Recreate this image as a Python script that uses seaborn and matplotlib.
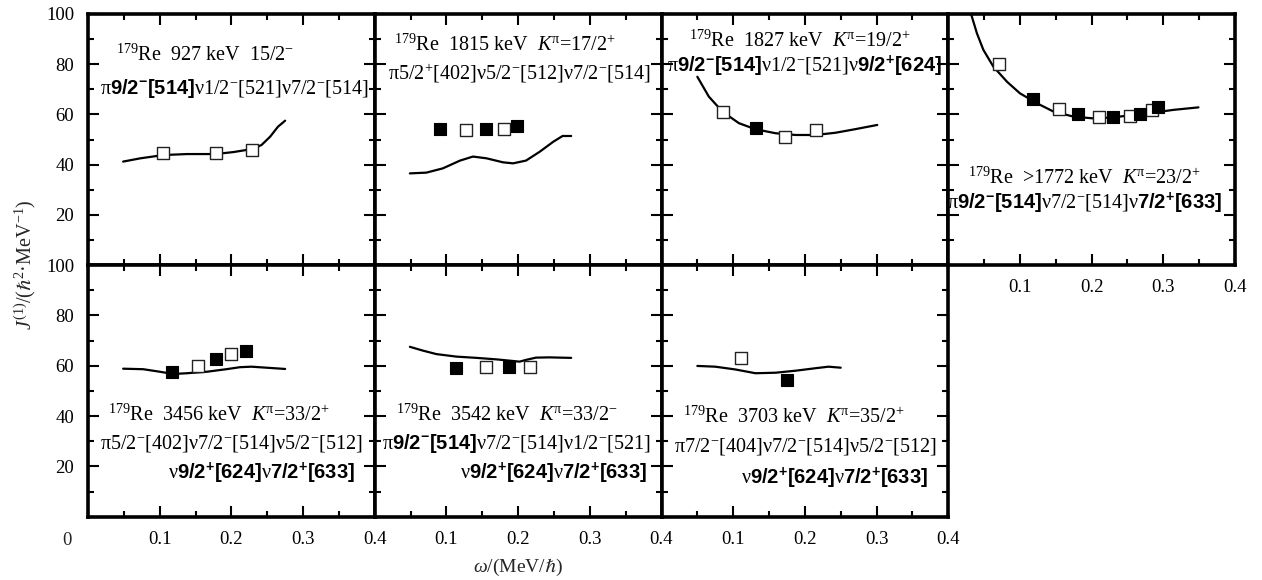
import matplotlib
matplotlib.use("Agg")
import matplotlib.pyplot as plt
from matplotlib.ticker import FixedLocator, MultipleLocator
import seaborn as sns

# ---- data: omega (MeV/hbar) and J(1) (hbar^2/MeV) ----
# 927 keV 15/2-
p1_curve_w = [0.049, 0.073, 0.105, 0.138, 0.178, 0.203, 0.229, 0.242, 0.254, 0.265, 0.275]
p1_curve_j = [41.2, 42.5, 43.8, 44.2, 44.2, 45.0, 46.2, 47.8, 51.1, 55.1, 57.5]
p1_open_w = [0.105, 0.178, 0.229]
p1_open_j = [44.5, 44.5, 45.8]
p1_fill_w = []
p1_fill_j = []

# 1815 keV 17/2+
p2_curve_w = [0.049, 0.072, 0.095, 0.119, 0.137, 0.156, 0.179, 0.193, 0.211, 0.230, 0.249, 0.262, 0.274]
p2_curve_j = [36.5, 36.8, 38.5, 41.6, 43.2, 42.5, 40.9, 40.5, 41.6, 45.1, 49.1, 51.4, 51.4]
p2_open_w = [0.127, 0.180]
p2_open_j = [53.8, 54.1]
p2_fill_w = [0.091, 0.155, 0.199]
p2_fill_j = [54.1, 54.1, 55.5]

# 1827 keV 19/2+
p3_curve_w = [0.050, 0.066, 0.085, 0.108, 0.131, 0.159, 0.187, 0.215, 0.243, 0.270, 0.301]
p3_curve_j = [75.0, 67.1, 61.1, 56.5, 54.1, 52.5, 51.8, 51.8, 52.7, 54.1, 55.8]
p3_open_w = [0.086, 0.172, 0.216]
p3_open_j = [61.1, 51.1, 53.8]
p3_fill_w = [0.132]
p3_fill_j = [54.7]

# >1772 keV 23/2+
p4_curve_w = [0.030, 0.033, 0.040, 0.049, 0.063, 0.082, 0.100, 0.124, 0.147, 0.175,
              0.203, 0.230, 0.258, 0.286, 0.314, 0.349]
p4_curve_j = [101.5, 98.9, 92.3, 85.7, 79.0, 73.0, 68.4, 64.4, 61.1, 59.1,
              58.4, 58.8, 59.8, 60.7, 61.8, 62.8]
p4_open_w = [0.071, 0.155, 0.210, 0.254, 0.284]
p4_open_j = [80.0, 62.0, 59.1, 59.4, 61.8]
p4_fill_w = [0.118, 0.181, 0.230, 0.268, 0.292]
p4_fill_j = [66.0, 60.0, 58.8, 60.2, 63.1]

# 3456 keV 33/2+
p5_curve_w = [0.049, 0.077, 0.100, 0.119, 0.138, 0.166, 0.193, 0.212, 0.228, 0.249, 0.275]
p5_curve_j = [58.8, 58.6, 57.6, 56.7, 57.0, 57.6, 58.6, 59.4, 59.6, 59.2, 58.7]
p5_open_w = [0.154, 0.200]
p5_open_j = [60.0, 64.5]
p5_fill_w = [0.117, 0.179, 0.220]
p5_fill_j = [57.6, 62.5, 65.8]

# 3542 keV 33/2-
p6_curve_w = [0.049, 0.067, 0.086, 0.114, 0.142, 0.170, 0.188, 0.202, 0.211, 0.225, 0.244, 0.258, 0.274]
p6_curve_j = [67.5, 66.0, 64.6, 63.6, 63.1, 62.5, 62.0, 61.6, 62.3, 63.2, 63.3, 63.2, 63.1]
p6_open_w = [0.155, 0.217]
p6_open_j = [59.6, 59.6]
p6_fill_w = [0.113, 0.187]
p6_fill_j = [59.0, 59.6]

# 3703 keV 35/2+
p7_curve_w = [0.050, 0.075, 0.103, 0.131, 0.159, 0.187, 0.215, 0.233, 0.250]
p7_curve_j = [59.9, 59.6, 58.5, 57.0, 57.2, 58.0, 59.0, 59.6, 59.2]
p7_open_w = [0.111]
p7_open_j = [62.9]
p7_fill_w = [0.175]
p7_fill_j = [54.3]

# ---- panel texts ----
p1_text = [r"$^{179}$Re  927 keV  15/2$^{-}$",
           r"π$\mathbf{9/2^{-}[514]}$ν1/2$^{-}$[521]ν7/2$^{-}$[514]"]
p2_text = [r"$^{179}$Re  1815 keV  $\mathit{K}^{\pi}$=17/2$^{+}$",
           r"π5/2$^{+}$[402]ν5/2$^{-}$[512]ν7/2$^{-}$[514]"]
p3_text = [r"$^{179}$Re  1827 keV  $\mathit{K}^{\pi}$=19/2$^{+}$",
           r"π$\mathbf{9/2^{-}[514]}$ν1/2$^{-}$[521]ν$\mathbf{9/2^{+}[624]}$"]
p4_text = [r"$^{179}$Re  >1772 keV  $\mathit{K}^{\pi}$=23/2$^{+}$",
           r"π$\mathbf{9/2^{-}[514]}$ν7/2$^{-}$[514]ν$\mathbf{7/2^{+}[633]}$"]
p5_text = [r"$^{179}$Re  3456 keV  $\mathit{K}^{\pi}$=33/2$^{+}$",
           r"π5/2$^{-}$[402]ν7/2$^{-}$[514]ν5/2$^{-}$[512]",
           r"ν$\mathbf{9/2^{+}[624]}$ν$\mathbf{7/2^{+}[633]}$"]
p6_text = [r"$^{179}$Re  3542 keV  $\mathit{K}^{\pi}$=33/2$^{-}$",
           r"π$\mathbf{9/2^{-}[514]}$ν7/2$^{-}$[514]ν1/2$^{-}$[521]",
           r"ν$\mathbf{9/2^{+}[624]}$ν$\mathbf{7/2^{+}[633]}$"]
p7_text = [r"$^{179}$Re  3703 keV  $\mathit{K}^{\pi}$=35/2$^{+}$",
           r"π7/2$^{-}$[404]ν7/2$^{-}$[514]ν5/2$^{-}$[512]",
           r"ν$\mathbf{9/2^{+}[624]}$ν$\mathbf{7/2^{+}[633]}$"]

x_ticks = [0.0, 0.1, 0.2, 0.3, 0.4]
x_tick_labels = ["", "0.1", "0.2", "0.3", "0.4"]
y_ticks = [0, 20, 40, 60, 80, 100]
y_tick_labels = ["", "20", "40", "60", "80", "100"]

# ---- style ----
sns.set_theme(style="ticks")
plt.rcParams.update({
    "font.family": ["Liberation Serif", "DejaVu Serif"],
    "mathtext.fontset": "custom",
    "mathtext.rm": "Liberation Serif",
    "mathtext.it": "Liberation Serif:italic",
    "mathtext.bf": "Liberation Sans:bold",
    "mathtext.default": "rm",
    "mathtext.fallback": "stix",
    "axes.linewidth": 2.6,
    "axes.edgecolor": "black",
    "xtick.color": "black",
    "ytick.color": "black",
})

W, H = 1262, 580
fig = plt.figure(figsize=(W / 100, H / 100), dpi=100)

col_px = [88, 374.75, 661.5, 948.25]
col_w = 286.75
row_px = [(14, 265), (265, 516.7)]


def make_axes(col, row):
    left = col_px[col] / W
    top_px, bot_px = row_px[row]
    return fig.add_axes([left, 1 - bot_px / H, col_w / W, (bot_px - top_px) / H])


panels = [
    (0, 0, p1_curve_w, p1_curve_j, p1_open_w, p1_open_j, p1_fill_w, p1_fill_j,
     p1_text, [(0.408, 0.837, "center"), (0.512, 0.705, "center")], True, False),
    (1, 0, p2_curve_w, p2_curve_j, p2_open_w, p2_open_j, p2_fill_w, p2_fill_j,
     p2_text, [(0.456, 0.876, "center"), (0.505, 0.765, "center")], False, False),
    (2, 0, p3_curve_w, p3_curve_j, p3_open_w, p3_open_j, p3_fill_w, p3_fill_j,
     p3_text, [(0.484, 0.890, "center"), (0.500, 0.790, "center")], False, False),
    (3, 0, p4_curve_w, p4_curve_j, p4_open_w, p4_open_j, p4_fill_w, p4_fill_j,
     p4_text, [(0.477, 0.347, "center"), (0.477, 0.247, "center")], False, True),
    (0, 1, p5_curve_w, p5_curve_j, p5_open_w, p5_open_j, p5_fill_w, p5_fill_j,
     p5_text, [(0.456, 0.404, "center"), (0.500, 0.292, "center"), (0.930, 0.172, "right")], True, True),
    (1, 1, p6_curve_w, p6_curve_j, p6_open_w, p6_open_j, p6_fill_w, p6_fill_j,
     p6_text, [(0.460, 0.404, "center"), (0.493, 0.292, "center"), (0.948, 0.172, "right")], False, True),
    (2, 1, p7_curve_w, p7_curve_j, p7_open_w, p7_open_j, p7_fill_w, p7_fill_j,
     p7_text, [(0.462, 0.397, "center"), (0.502, 0.278, "center"), (0.603, 0.152, "center")], False, True),
]

for (col, row, cw, cj, ow, oj, fw, fj, texts, tpos, lab_left, lab_bottom) in panels:
    ax = make_axes(col, row)
    sns.lineplot(x=cw, y=cj, ax=ax, color="black", linewidth=1.6, sort=False,
                 estimator=None, zorder=2)
    if ow:
        sns.scatterplot(x=ow, y=oj, ax=ax, marker="s", s=85, facecolor="white",
                        edgecolor="#222222", linewidth=1.0, zorder=3)
    if fw:
        sns.scatterplot(x=fw, y=fj, ax=ax, marker="s", s=85, color="black",
                        edgecolor="black", linewidth=0.8, zorder=3)
    ax.set_xlim(0, 0.4)
    ax.set_ylim(0, 100)
    ax.xaxis.set_major_locator(FixedLocator(x_ticks))
    ax.xaxis.set_minor_locator(MultipleLocator(0.05))
    ax.yaxis.set_major_locator(FixedLocator(y_ticks))
    ax.yaxis.set_minor_locator(MultipleLocator(10))
    ax.set_xticklabels(x_tick_labels)
    ax.set_yticklabels(y_tick_labels)
    ax.tick_params(which="both", direction="in", top=True, right=True,
                   bottom=True, left=True, width=1.5, labelsize=13.5,
                   labelleft=lab_left, labelbottom=lab_bottom, pad=10)
    ax.tick_params(which="major", length=7.7)
    ax.tick_params(which="minor", length=4.5)
    ax.set_xlabel("")
    ax.set_ylabel("")
    for s, (tx, ty, ha) in zip(texts, tpos):
        ax.text(tx, ty, s, transform=ax.transAxes, ha=ha, va="center",
                fontsize=14.5, color="black")
    if col == 0 and row == 1:
        ax.text(-21 / col_w, -24 / 251.7, "0", transform=ax.transAxes,
                ha="center", va="center", fontsize=13.5)

fig.text(25 / W, 1 - 265 / H, r"$\mathit{J}^{(1)}$/($\mathit{\hslash}^{2}$·MeV$^{-1}$)",
         rotation=90, ha="center", va="center", fontsize=14.5)
fig.text(518 / W, 1 - 567 / H, r"$\mathit{\omega}$/(MeV/$\mathit{\hslash}$)",
         ha="center", va="center", fontsize=14)

fig.savefig("out.png", dpi=100, facecolor="white")
